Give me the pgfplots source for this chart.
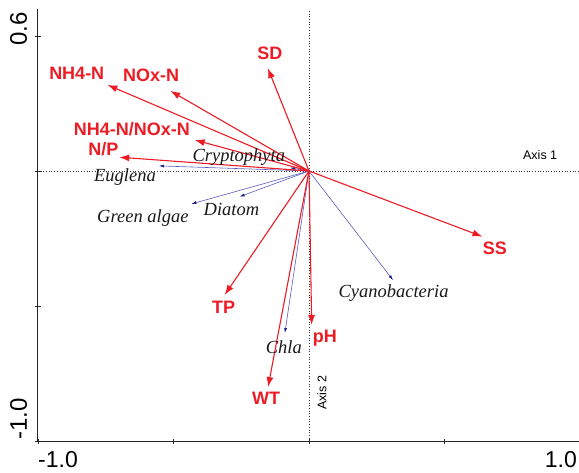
\documentclass[border=0pt]{standalone}
\usepackage{pgfplots}
\pgfplotsset{compat=1.18}
\usepackage{pgfplotstable}
\usepackage{fontspec}
\setmainfont{Liberation Sans}
\newfontfamily\serif{Liberation Serif}
\usetikzlibrary{arrows.meta}
\definecolor{envred}{RGB}{237,28,36}
\definecolor{spblue}{RGB}{30,30,140}
\definecolor{spline}{RGB}{90,90,190}
\tikzset{
 envlab/.style={font=\fontsize{18}{20}\selectfont\bfseries, text=envred, inner sep=0pt},
 splab/.style={font=\fontsize{18.5}{20}\selectfont\serif\itshape, text=black!90, inner sep=0pt},
}

\pgfplotstableread{
x y u v
0 0 -0.152 0.381
0 0 -0.744 0.319
0 0 -0.512 0.297
0 0 -0.422 0.115
0 0 -0.700 0.051
0 0 0.640 -0.243
0 0 -0.311 -0.459
0 0 -0.151 -0.800
0 0 0.010 -0.570
}\envtable

\pgfplotstableread{
x y u v
0 0 -0.070 0.012
0 0 -0.554 0.019
0 0 -0.434 -0.122
0 0 -0.256 -0.095
0 0 0.310 -0.404
0 0 -0.089 -0.600
}\sptable

\begin{document}
\begin{tikzpicture}
\begin{axis}[
 name=ax, scale only axis, width=542pt, height=432pt,
 xmin=-1, xmax=1, ymin=-1, ymax=0.6,
 axis x line*=bottom, axis y line*=left,
 axis line style={-, line width=1pt, draw=black!85},
 xtick={-1,-0.5,0,0.5,1}, ytick={-1,-0.5,0,0.5},
 xticklabels={}, yticklabels={},
 tick align=center, major tick length=5pt,
 tick style={line width=0.8pt, black!85},
 clip=false,
]
\addplot[dotted, black!80, line width=0.7pt] coordinates {(-1,0) (1,0)};
\addplot[dotted, black!80, line width=0.7pt] coordinates {(0,-1) (0,0.6)};
\addplot[spline, line width=0.6pt, quiver={u=\thisrow{u},v=\thisrow{v}},
  -{Latex[length=5pt,width=3pt,color=spblue]}] table {\sptable};
\addplot[envred, line width=1.1pt, quiver={u=\thisrow{u},v=\thisrow{v}},
  -{Latex[length=10pt,width=7pt]}] table {\envtable};

\node[envlab] at (axis cs:-0.144,0.436) {SD};
\node[envlab] at (axis cs:-0.857,0.362) {NH4-N};
\node[envlab] at (axis cs:-0.583,0.356) {NOx-N};
\node[envlab] at (axis cs:-0.654,0.156) {NH4-N/NOx-N};
\node[envlab] at (axis cs:-0.759,0.080) {N/P};
\node[envlab] at (axis cs:0.686,-0.286) {SS};
\node[envlab] at (axis cs:-0.315,-0.503) {TP};
\node[envlab] at (axis cs:0.059,-0.620) {pH};
\node[envlab] at (axis cs:-0.158,-0.842) {WT};

\node[splab] at (axis cs:-0.259,0.053) {Cryptophyta};
\node[splab] at (axis cs:-0.679,-0.023) {Euglena};
\node[splab] at (axis cs:-0.613,-0.175) {Green algae};
\node[splab] at (axis cs:-0.286,-0.144) {Diatom};
\node[splab] at (axis cs:0.312,-0.453) {Cyanobacteria};
\node[splab] at (axis cs:-0.093,-0.651) {Chla};

\node[font=\fontsize{12.5}{14}\selectfont, inner sep=0pt] at (axis cs:0.853,0.059) {Axis 1};
\node[font=\fontsize{12.5}{14}\selectfont, inner sep=0pt, rotate=90] at (axis cs:0.048,-0.822) {Axis 2};

\node[font=\fontsize{23}{25}\selectfont, anchor=base west, inner sep=0pt] at ([shift={(0pt,-26.5pt)}]axis cs:-1,-1) {-1.0};
\node[font=\fontsize{23}{25}\selectfont, anchor=base east, inner sep=0pt] at ([shift={(-3pt,-26.5pt)}]axis cs:1,-1) {1.0};
\node[font=\fontsize{24}{26}\selectfont, anchor=base east, inner sep=0pt, rotate=90] at ([shift={(-11pt,-3pt)}]axis cs:-1,0.6) {0.6};
\node[font=\fontsize{24}{26}\selectfont, anchor=base west, inner sep=0pt, rotate=90] at ([shift={(-11pt,1pt)}]axis cs:-1,-1) {-1.0};
\end{axis}
\pgfresetboundingbox
\path[use as bounding box] ([shift={(-38pt,-31pt)}]ax.south west) rectangle ([shift={(-1pt,9pt)}]ax.north east);
\end{tikzpicture}
\end{document}
